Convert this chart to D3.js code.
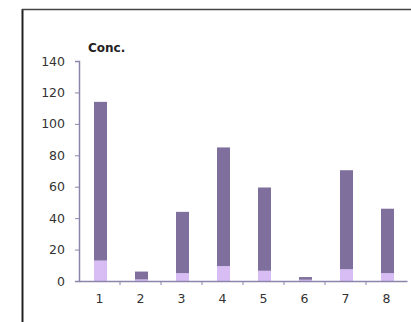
<!DOCTYPE html>
<html><head><meta charset="utf-8">
<script src="https://cdn.jsdelivr.net/npm/d3@7"></script>
<style>html,body{margin:0;padding:0;background:#fff;overflow:hidden}</style>
</head><body><svg id="c" width="411" height="322"></svg>
<script>
const categories = ["1","2","3","4","5","6","7","8"];
const lowerValues = [13, 1, 5, 9.5, 6.5, 0.8, 7.5, 5];
const upperValues = [101, 5, 39, 75.5, 53, 1.7, 63, 41];
const yTicks = [0,20,40,60,80,100,120,140];
const yTitle = "Conc.";

const svg = d3.select("#c");
// frame
svg.append("line").attr("x1",22.5).attr("y1",9).attr("x2",22.5).attr("y2",322).attr("stroke","#222").attr("stroke-width",2);
svg.append("line").attr("x1",22).attr("y1",9.5).attr("x2",411).attr("y2",9.5).attr("stroke","#444").attr("stroke-width",1.5);

const x0 = 79, x1 = 407, yTop = 61, yBot = 281;
const x = d3.scaleBand().domain(categories).range([x0, x1]).paddingInner(0).paddingOuter(0);
const y = d3.scaleLinear().domain([0,140]).range([yBot, yTop]);
const axisColor = "#8c84aa";
const font = "DejaVu Sans, Verdana, sans-serif";

const data = categories.map((c,i)=>({c, lo: lowerValues[i], up: upperValues[i]}));
const bw = 13;
const g = svg.append("g");
g.selectAll(".lo").data(data).enter().append("rect")
  .attr("x", d=>x(d.c)+x.bandwidth()/2-bw/2+1).attr("width", bw)
  .attr("y", d=>y(d.lo)).attr("height", d=>y(0)-y(d.lo)).attr("fill","#d8bdf5");
g.selectAll(".up").data(data).enter().append("rect")
  .attr("x", d=>x(d.c)+x.bandwidth()/2-bw/2+1).attr("width", bw)
  .attr("y", d=>y(d.lo+d.up)).attr("height", d=>y(d.lo)-y(d.lo+d.up)).attr("fill","#7f6f9d");

// y axis
const ya = svg.append("g").attr("transform",`translate(${x0},0)`)
  .call(d3.axisLeft(y).tickValues(yTicks).tickSize(4).tickPadding(10));
ya.select(".domain").attr("stroke",axisColor).attr("stroke-width",1.5);
ya.selectAll(".tick line").attr("stroke",axisColor);
ya.selectAll(".tick text").attr("font-family",font).attr("font-size","12.5px").attr("fill","#333");

// x axis
const xa = svg.append("g").attr("transform",`translate(0,${yBot})`)
  .call(d3.axisBottom(x).tickSize(0).tickPadding(13));
xa.select(".domain").attr("stroke",axisColor).attr("stroke-width",1.5);
xa.selectAll(".tick text").attr("font-family",font).attr("font-size","12.5px").attr("fill","#333");
xa.selectAll(".bnd").data(categories.slice(1)).enter().append("line")
  .attr("x1", d=>x(d)).attr("x2", d=>x(d)).attr("y1",0).attr("y2",4).attr("stroke",axisColor);

svg.append("text").attr("x",88).attr("y",52).text(yTitle)
  .attr("font-family",font).attr("font-size","12px").attr("font-weight","bold").attr("fill","#222");
</script></body></html>
